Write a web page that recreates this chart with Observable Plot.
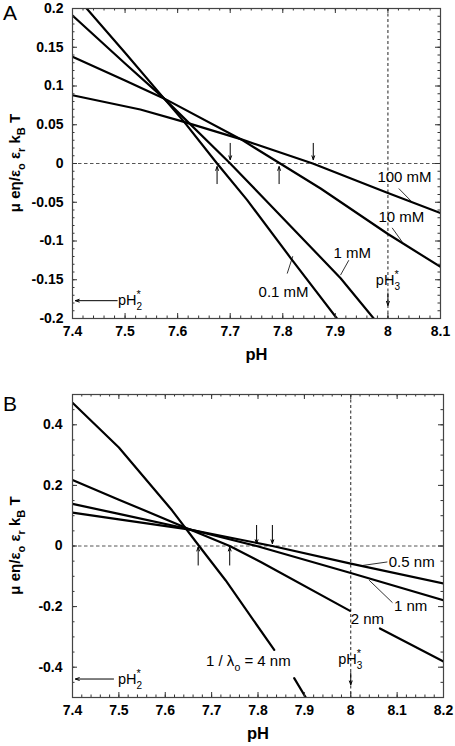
<!DOCTYPE html>
<html><head><meta charset="utf-8">
<script src="https://cdn.jsdelivr.net/npm/d3@7"></script>
<script src="https://cdn.jsdelivr.net/npm/@observablehq/plot@0.6"></script>
<style>
body{margin:0;background:#fff;}
svg{display:block;}
</style></head><body><div id="pa"></div><div id="pb"></div>
<script>
// ---------------- Panel A data (pH, mobility) ----------------
const pH_A_01  = [7.40, 7.50, 7.574, 7.612, 7.675, 7.732, 7.815, 7.903, 7.92];
const mu_A_01  = [0.221, 0.143, 0.084, 0.054, 0, -0.047, -0.122, -0.2, -0.216];
const pH_A_1   = [7.40, 7.50, 7.574, 7.70, 7.767, 7.91, 7.973, 7.99];
const mu_A_1   = [0.191, 0.129, 0.084, 0, -0.047, -0.148, -0.2, -0.214];
const pH_A_10  = [7.40, 7.50, 7.574, 7.72, 7.795, 7.872, 8.0, 8.1];
const mu_A_10  = [0.1376, 0.107, 0.084, 0.0314, 0, -0.0323, -0.091, -0.1334];
const pH_A_100 = [7.40, 7.529, 7.612, 7.72, 7.857, 8.0, 8.1];
const mu_A_100 = [0.0881, 0.0697, 0.0537, 0.0314, 0, -0.038, -0.064];
const labA   = ["100 mM", "10 mM", "1 mM", "0.1 mM"];
const labA_x = [7.980, 7.982, 7.8965, 7.754];
const labA_y = [-0.0173, -0.0697, -0.116, -0.1657];
const leadA  = [[8.0207, -0.0323, 8.0443, -0.0486], [8.008, -0.083, 8.027, -0.101],
                [7.9256, -0.1248, 7.9098, -0.144], [7.8084, -0.142, 7.819, -0.1196]];
const zeroDownA = [7.700, 7.858];
const zeroUpA   = [7.675, 7.793];
const xTicksA = [7.4, 7.5, 7.6, 7.7, 7.8, 7.9, 8, 8.1];
const yTicksA = [-0.2, -0.15, -0.1, -0.05, 0, 0.05, 0.1, 0.15, 0.2];

// ---------------- Panel B data ----------------
const pH_B_4  = [7.40, 7.50, 7.615, 7.673, 7.73, 7.835, null, 7.878, 7.905];
const mu_B_4  = [0.473, 0.325, 0.117, 0, -0.113, -0.343, null, -0.436, -0.505];
const pH_B_2  = [7.40, 7.50, 7.648, 7.739, 7.806, 7.9985, null, 8.063, 8.2];
const mu_B_2  = [0.218, 0.153, 0.058, 0, -0.053, -0.214, null, -0.272, -0.381];
const pH_B_1  = [7.40, 7.50, 7.65, 7.797, 8.0, 8.2];
const mu_B_1  = [0.139, 0.106, 0.056, 0, -0.089, -0.179];
const pH_B_05 = [7.40, 7.50, 7.65, 7.831, 8.0, 8.2];
const mu_B_05 = [0.110, 0.088, 0.055, 0, -0.058, -0.124];
const labB   = ["0.5 nm", "1 nm", "2 nm"];
const labB_x = [8.082, 8.093, 8.0];
const labB_y = [-0.0526, -0.197, -0.242];
const leadB  = [[8.025, -0.0644, 8.079, -0.0526], [8.0396, -0.1128, 8.090, -0.187]];
const zeroDownB = [7.797, 7.831];
const zeroUpB   = [7.671, 7.739];
const xTicksB = [7.4, 7.5, 7.6, 7.7, 7.8, 7.9, 8, 8.1, 8.2];
const yTicksB = [-0.4, -0.2, 0, 0.2, 0.4];

const FONT = "'Liberation Sans', Arial, Helvetica, sans-serif";

function rows(list) {
  return list.flatMap(([xs, ys], k) => xs.map((x, i) => ({x, y: ys[i], k})));
}

function frameTicks(vals, axis, len, iw, ih) {
  const o = {stroke: "#333", strokeWidth: 1};
  if (axis === "x") return [
    Plot.tickX(vals, {...o, x: d => d, insetTop: ih - len}),
    Plot.tickX(vals, {...o, x: d => d, insetBottom: ih - len})
  ];
  return [
    Plot.tickY(vals, {...o, y: d => d, insetRight: iw - len}),
    Plot.tickY(vals, {...o, y: d => d, insetLeft: iw - len})
  ];
}

function rich(svg, px, py, pieces, size, extra = {}) {
  const t = d3.select(svg).append("text")
    .attr("x", px).attr("y", py)
    .attr("text-anchor", "start")
    .attr("font-family", FONT).attr("font-size", size).attr("fill", "black");
  for (const [k, v] of Object.entries(extra)) t.attr(k, v);
  let cur = 0;
  for (const p of pieces) {
    const s = p.s || 0;
    const ts = t.append("tspan").text(p.t).attr("dy", s - cur);
    if (p.dx) ts.attr("dx", p.dx);
    if (p.f) ts.attr("font-size", p.f);
    cur = s;
  }
  return t;
}

function panel(cfg) {
  const {height, mt, mb, ml, mr, xd, yd, series, xT, yT, xMinor, yMinor, yPad,
         lab, labx, laby, lead, down, up, dArr, uArr, tip3, pH2y, pH2x} = cfg;
  const iw = 455 - ml - mr, ih = height - mt - mb;
  const labels = lab.map((t, i) => ({t, x: labx[i], y: laby[i]}));
  const leaders = lead.map(([x1, y1, x2, y2]) => ({x1, y1, x2, y2}));
  const arrows = [
    ...down.map(x => ({x, y1: dArr[0], y2: dArr[1]})),
    ...up.map(x => ({x, y1: uArr[0], y2: uArr[1]}))
  ];
  const chart = Plot.plot({
    width: 455, height,
    marginTop: mt, marginBottom: mb, marginLeft: ml, marginRight: mr,
    x: {domain: xd}, y: {domain: yd},
    style: {fontFamily: FONT, fontSize: "14px", color: "black", background: "white"},
    marks: [
      Plot.ruleY([0], {stroke: "#555", strokeDasharray: "3.5,2.5", strokeWidth: 1}),
      Plot.ruleX([8], {stroke: "#222", strokeDasharray: "3,2.5", strokeWidth: 1}),
      Plot.arrow([{x: 8, y1: tip3 + (yd[1] - yd[0]) * 0.04, y2: tip3}],
        {x: "x", y1: "y1", y2: "y2", stroke: "black", strokeWidth: 1, headLength: 7, headAngle: 40}),
      Plot.arrow([{x1: pH2x, x2: xd[0] + (xd[1] - xd[0]) * 0.008, y: pH2y}],
        {x1: "x1", x2: "x2", y: "y", stroke: "black", strokeWidth: 1, headLength: 6, headAngle: 40}),
      Plot.line(rows(series), {x: "x", y: "y", z: "k", stroke: "black", strokeWidth: 2.2, clip: true}),
      Plot.link(leaders, {x1: "x1", y1: "y1", x2: "x2", y2: "y2", stroke: "black", strokeWidth: 0.8}),
      Plot.arrow(arrows, {x: "x", y1: "y1", y2: "y2", stroke: "black", strokeWidth: 1, headLength: 6, headAngle: 40}),
      Plot.text(labels, {x: "x", y: "y", text: "t", textAnchor: "start", fontSize: 15, fill: "black"}),
      ...frameTicks(xMinor, "x", 2.5, iw, ih),
      ...frameTicks(xT, "x", 5, iw, ih),
      ...frameTicks(yMinor, "y", 2.5, iw, ih),
      ...frameTicks(yT, "y", 5, iw, ih),
      Plot.frame({stroke: "#444", strokeWidth: 1.2}),
      Plot.axisX(xT, {tickSize: 0, tickPadding: 8, tickFormat: d => String(d), fontWeight: "bold", fontSize: 14, label: null}),
      Plot.axisY(yT, {tickSize: 0, tickPadding: yPad, tickFormat: d => String(d), fontWeight: "bold", fontSize: 14, label: null}),
      Plot.text(["pH"], {frameAnchor: "bottom", lineAnchor: "top", dy: 30, fontWeight: "bold", fontSize: 16.5, fill: "black"})
    ]
  });
  return {chart, iw, ih};
}

function decorate(chart, cfg, letter, letterY) {
  const sx = chart.scale("x"), sy = chart.scale("y");
  const {mt, ih} = cfg;
  // panel letter
  d3.select(chart).append("text").attr("x", 3).attr("y", letterY)
    .attr("text-anchor", "start")
    .attr("font-family", FONT).attr("font-size", 21).text(letter);
  // y-axis title with subscripts
  rich(chart, 0, 0, [
    {t: "μ eη/ε"}, {t: "o", s: 5, f: 11}, {t: " ε"}, {t: "r", s: 5, f: 11},
    {t: " k"}, {t: "B", s: 5, f: 11}, {t: " T"}
  ], 15, {"font-weight": "bold", "text-anchor": "middle",
          transform: `translate(19.5,${mt + ih / 2}) rotate(-90)`});
  // pH2*
  const b2 = sy.apply(cfg.pH2y) + 5;
  rich(chart, sx.apply(cfg.pH2lx), b2, [
    {t: "pH"}, {t: "2", s: 5, f: 10}, {t: "*", s: -7, f: 11, dx: -5.5}
  ], 14.5);
  // pH3*
  const b3 = sy.apply(cfg.pH3ly) + 5;
  rich(chart, sx.apply(cfg.pH3lx), b3, [
    {t: "pH"}, {t: "3", s: 5, f: 10}, {t: "*", s: -7, f: 11, dx: -5.5}
  ], 14.5);
}

// ---- Panel A ----
const cfgA = {
  height: 375, mt: 8, mb: 57, ml: 72, mr: 15,
  xd: [7.4, 8.1], yd: [-0.2, 0.2],
  series: [[pH_A_01, mu_A_01], [pH_A_1, mu_A_1], [pH_A_10, mu_A_10], [pH_A_100, mu_A_100]],
  xT: xTicksA, yT: yTicksA,
  xMinor: d3.range(740, 811, 2).map(v => v / 100),
  yMinor: d3.range(-20, 21).map(v => v / 100),
  yPad: 9,
  lab: labA, labx: labA_x, laby: labA_y, lead: leadA,
  down: zeroDownA, up: zeroUpA, dArr: [0.026, 0.005], uArr: [-0.026, -0.004],
  tip3: -0.183, pH2y: -0.177, pH2x: 7.485,
  pH2lx: 7.4875, pH3lx: 7.978, pH3ly: -0.1506
};
const A = panel(cfgA);
cfgA.ih = A.ih;
document.getElementById("pa").appendChild(A.chart);
decorate(A.chart, cfgA, "A", 20);

// ---- Panel B ----
const cfgB = {
  height: 371, mt: 19, mb: 49, ml: 72, mr: 12,
  xd: [7.4, 8.2], yd: [-0.5, 0.5],
  series: [[pH_B_4, mu_B_4], [pH_B_2, mu_B_2], [pH_B_1, mu_B_1], [pH_B_05, mu_B_05]],
  xT: xTicksB, yT: yTicksB,
  xMinor: d3.range(740, 821, 2).map(v => v / 100),
  yMinor: d3.range(-10, 11).map(v => v / 20),
  yPad: 10,
  lab: labB, labx: labB_x, laby: labB_y, lead: leadB,
  down: zeroDownB, up: zeroUpB, dArr: [0.068, 0.008], uArr: [-0.063, -0.004],
  tip3: -0.458, pH2y: -0.439, pH2x: 7.4885,
  pH2lx: 7.499, pH3lx: 7.974, pH3ly: -0.376
};
const B = panel(cfgB);
cfgB.ih = B.ih;
document.getElementById("pb").appendChild(B.chart);
decorate(B.chart, cfgB, "B", 36);
// "1 / λo = 4 nm" label
{
  const sx = B.chart.scale("x"), sy = B.chart.scale("y");
  rich(B.chart, sx.apply(7.689), sy.apply(-0.379) + 5.2, [
    {t: "1 / λ"}, {t: "o", s: 5, f: 10.5}, {t: " = 4 nm"}
  ], 15);
}
</script></body></html>
